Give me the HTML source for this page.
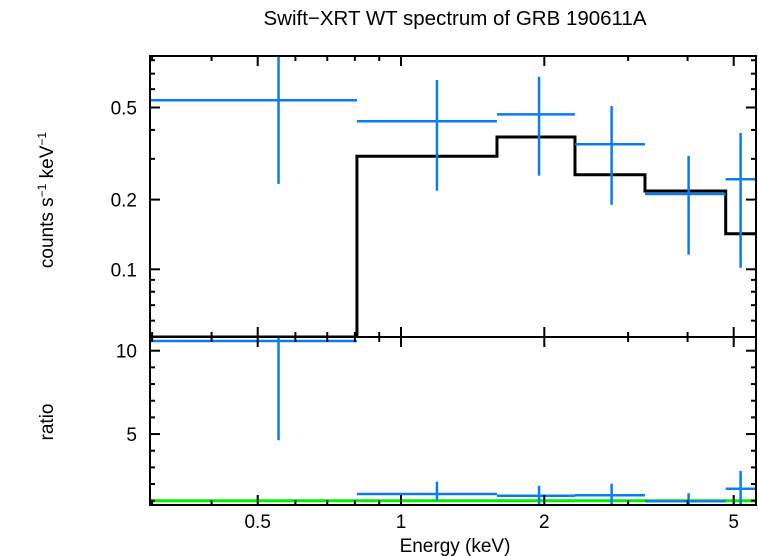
<!DOCTYPE html>
<html><head><meta charset="utf-8">
<style>
body{margin:0;background:#fff;}
svg{display:block;font-family:"Liberation Sans",sans-serif;}
</style></head>
<body>
<svg id="chart" width="758" height="556" viewBox="0 0 758 556" xmlns="http://www.w3.org/2000/svg">
<text x="455" y="25" font-size="20.5" text-anchor="middle">Swift−XRT WT spectrum of GRB 190611A</text>
<text transform="translate(53,200) rotate(-90)" font-size="19" text-anchor="middle">counts s<tspan font-size="12" dy="-7">−1</tspan><tspan dy="7"> keV</tspan><tspan font-size="12" dy="-7">−1</tspan></text>
<text transform="translate(53,422) rotate(-90)" font-size="19" text-anchor="middle">ratio</text>
<text x="455" y="552" font-size="19" text-anchor="middle">Energy (keV)</text>
<g id="marks"></g>
</svg>
<script>
// data
const binLo = [0.297, 0.808, 1.591, 2.32, 3.255, 4.81];
const binHi = [0.808, 1.591, 2.32, 3.255, 4.81, 5.57];
const binCenter = [0.553, 1.19, 1.95, 2.77, 4.02, 5.17];
const rate = [0.537, 0.436, 0.467, 0.347, 0.2115, 0.245];
const rateHi = [0.90, 0.657, 0.679, 0.507, 0.309, 0.388];
const rateLo = [0.234, 0.2185, 0.254, 0.190, 0.1157, 0.1016];
const model = [0.04, 0.308, 0.373, 0.256, 0.218, 0.1425];
const ratio = [10.58, 1.40, 1.30, 1.33, 0.97, 1.72];
const ratioHi = [11.5, 2.14, 1.90, 2.02, 1.45, 2.79];
const ratioLo = [4.63, 1.0, 0.7, 0.6, 0.6, 0.7];
const xTickLabels = ["0.5", "1", "2", "5"];
const xTickValues = [0.5, 1, 2, 5];
const xMinor = [0.3, 0.4, 0.6, 0.7, 0.8, 0.9, 3, 4];
const yTopLabels = ["0.1", "0.2", "0.5"];
const yTopValues = [0.1, 0.2, 0.5];
const yTopMinor = [0.06, 0.07, 0.08, 0.09, 0.3, 0.4, 0.6, 0.7, 0.8];
const yBotLabels = ["5", "10"];
const yBotValues = [5, 10];
const yBotMinor = [1, 2, 3, 4, 6, 7, 8, 9];

const L = 150, R = 756, T1 = 56, B1 = 337, T2 = 337, B2 = 505;
const X = e => 401 + 476 * Math.log10(e);
const Y1 = v => 269.3 - 231.5 * Math.log10(v / 0.1);
const Y2 = v => 350.7 - (v - 10) * 16.67;
const NS = "http://www.w3.org/2000/svg";
const g = document.getElementById('marks');
function mk(tag, attrs, parent) {
  const el = document.createElementNS(NS, tag);
  for (const k in attrs) el.setAttribute(k, attrs[k]);
  (parent || g).appendChild(el);
  return el;
}
function line(x1, y1, x2, y2, stroke, w, parent) {
  return mk('line', {x1, y1, x2, y2, stroke, 'stroke-width': w}, parent);
}

const defs = mk('defs', {});
const c1 = mk('clipPath', {id: 'c1'}, defs); mk('rect', {x: L, y: T1, width: R - L, height: B1 - T1}, c1);
const c2 = mk('clipPath', {id: 'c2'}, defs); mk('rect', {x: L, y: T2, width: R - L, height: B2 - T2 + 1}, c2);
const gTop = mk('g', {'clip-path': 'url(#c1)'});


const gBot = mk('g', {'clip-path': 'url(#c2)'});



const ref = line(L, Y2(1), R, Y2(1), '#00ee00', 3, gBot);



let d = '';
for (let i = 0; i < model.length; i++) {
  const y = Math.min(Y1(model[i]), B1);
  d += (i === 0 ? 'M' : 'L') + X(binLo[i]) + ',' + y + ' L' + X(binHi[i]) + ',' + y + ' ';
}
const mp = mk('path', {d, fill: 'none', stroke: '#000', 'stroke-width': 3}, gTop);



for (let i = 0; i < rate.length; i++) {
  const h = line(X(binLo[i]), Y1(rate[i]), X(binHi[i]), Y1(rate[i]), '#0a7cf0', 2.5, gTop);
  
  
  const v = line(X(binCenter[i]), Y1(rateHi[i]), X(binCenter[i]), Y1(rateLo[i]), '#0a7cf0', 2.5, gTop);
  
  
  const h2 = line(X(binLo[i]), Y2(ratio[i]), X(binHi[i]), Y2(ratio[i]), '#0a7cf0', 2.5, gBot);
  
  
  const v2 = line(X(binCenter[i]), Y2(ratioHi[i]), X(binCenter[i]), Y2(ratioLo[i]), '#0a7cf0', 2.5, gBot);
  
  
}

const f1 = mk('rect', {x: L, y: T1, width: R - L, height: B1 - T1, fill: 'none', stroke: '#000', 'stroke-width': 2});


const f2 = mk('rect', {x: L, y: T2, width: R - L, height: B2 - T2, fill: 'none', stroke: '#000', 'stroke-width': 2});



const tk = mk('g', {});


function xt(v, len) {
  const x = X(v);
  [T1, T2].forEach(t => line(x, t, x, t + len, '#000', 2, tk));
  [B1, B2].forEach(b => line(x, b, x, b - len, '#000', 2, tk));
}
xTickValues.forEach(v => xt(v, 10));
xMinor.forEach(v => xt(v, 5));
xTickLabels.forEach((s, i) => {
  const t = mk('text', {x: X(xTickValues[i]), y: 528, 'font-size': 19, 'text-anchor': 'middle'});
  t.textContent = s;
  
  
});
function yt(y, len) {
  line(L, y, L + len, y, '#000', 2, tk);
  line(R, y, R - len, y, '#000', 2, tk);
}
yTopValues.forEach(v => yt(Y1(v), 10));
yTopMinor.forEach(v => yt(Y1(v), 5));
yTopLabels.forEach((s, i) => {
  const t = mk('text', {x: 137, y: Y1(yTopValues[i]) + 7, 'font-size': 19, 'text-anchor': 'end'});
  t.textContent = s;
  
  
});
yBotValues.forEach(v => yt(Y2(v), 10));
yBotMinor.forEach(v => yt(Y2(v), 5));
yBotLabels.forEach((s, i) => {
  const t = mk('text', {x: 137, y: Y2(yBotValues[i]) + 7, 'font-size': 19, 'text-anchor': 'end'});
  t.textContent = s;
  
  
});
</script>
</body></html>
